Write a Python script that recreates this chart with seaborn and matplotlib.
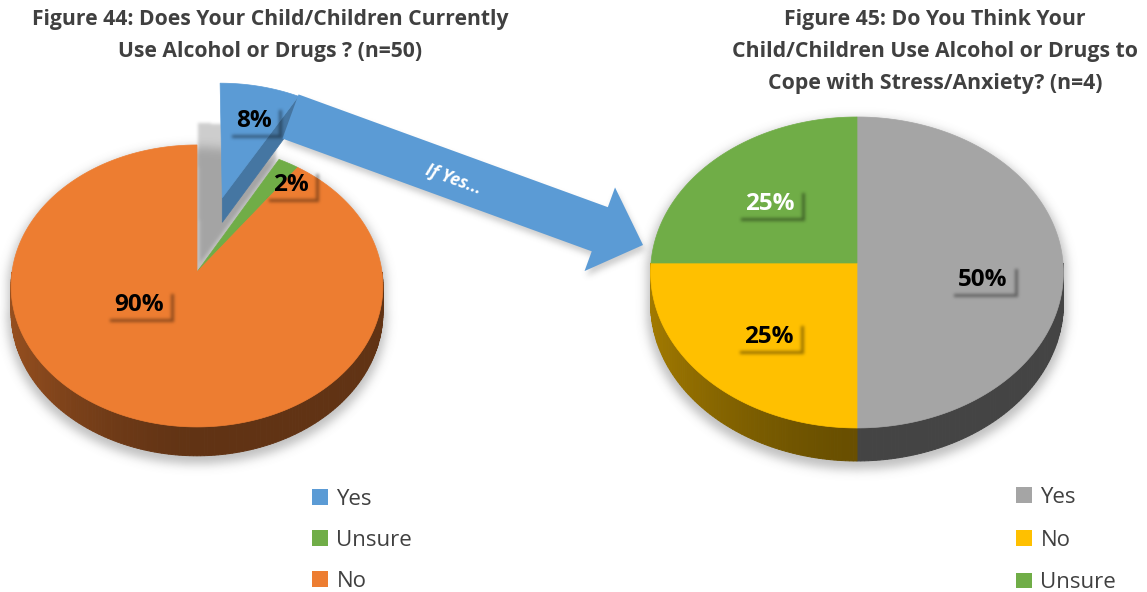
import numpy as np
import pandas as pd
import matplotlib
matplotlib.use("Agg")
import matplotlib.pyplot as plt
from matplotlib.patches import Polygon, Patch, FancyArrow
from matplotlib.path import Path
import seaborn as sns

# ---- survey results -------------------------------------------------------
use_labels = ["Yes", "Unsure", "No"]
use_pct = [8, 2, 90]
cope_labels = ["Yes", "No", "Unsure"]
cope_pct = [50, 25, 25]

use_title = ["Figure 44: Does Your Child/Children Currently",
             "Use Alcohol or Drugs ? (n=50)"]
cope_title = ["Figure 45: Do You Think Your",
              "Child/Children Use Alcohol or Drugs to",
              "Cope with Stress/Anxiety? (n=4)"]
arrow_text = "If Yes..."

# ---- style ---------------------------------------------------------------
sns.set_theme(style="white")
plt.rcParams["font.family"] = ["Open Sans", "DejaVu Sans"]

use_colors = sns.color_palette(["#5B9BD5", "#70AD47", "#ED7D31"])
cope_colors = sns.color_palette(["#A5A5A5", "#FFC000", "#70AD47"])
use_text_colors = ["black", "black", "black"]
cope_text_colors = ["black", "black", "white"]
TEXT = "#404040"

W, H = 1147, 592
fig = plt.figure(figsize=(W / 100, H / 100), dpi=100)
ax = fig.add_axes([0, 0, 1, 1])

# tilted-disc geometry in pixel space (y grows downwards)
LEFT = dict(cx=197, cy=272, rx=185, A=139.6, k=0.099, h=26)
RIGHT = dict(cx=857, cy=263, rx=206, A=154.9, k=0.061, h=31)
use_explode = [0.58, 0.0, 0.0]
cope_explode = [0.0, 0.0, 0.0]
use_label_xy = [(254, 121), (291, 185), (139, 305)]
cope_label_xy = [(983, 280), (769, 337), (770, 204)]


def project(g, theta, r=1.0, z=0.0, off=(0.0, 0.0)):
    theta = np.atleast_1d(np.asarray(theta, float))
    u = r * np.cos(theta) + off[0]
    v = r * np.sin(theta) + off[1]
    s = 1.0 / (1.0 + g["k"] * v)
    return np.column_stack([g["cx"] + g["rx"] * u * s,
                            g["cy"] - g["A"] * v * s + g["h"] * z * s])


def wedge_angles(pcts):
    frac = np.asarray(pcts, float) / np.sum(pcts)
    edges = np.radians(90 - 360 * np.concatenate([[0], np.cumsum(frac)]))
    return [(edges[i + 1], edges[i]) for i in range(len(frac))]


def shade(color, f):
    return tuple(np.clip(np.array(color[:3]) * f, 0, 1))


def side_factor(theta):
    return 0.41 + 0.23 * max(0.0, -np.cos(theta)) ** 1.5


def gaussian_blur(a, sigma):
    r = int(3 * sigma) + 1
    x = np.arange(-r, r + 1)
    k = np.exp(-x ** 2 / (2 * sigma ** 2))
    k /= k.sum()
    a = np.apply_along_axis(np.convolve, 0, a, k, mode="same")
    a = np.apply_along_axis(np.convolve, 1, a, k, mode="same")
    return a


def soft_shadow(xy, offset=(0, 0), sigma=4.0, alpha=0.3, color=(0.45, 0.45, 0.45),
                zorder=1, scale=1.0, hole=None):
    pts = np.asarray(xy, float)
    c = pts.mean(0)
    pts = c + (pts - c) * scale + np.asarray(offset, float)
    pad = 3 * sigma + 3
    x0, y0 = np.floor(pts.min(0) - pad)
    x1, y1 = np.ceil(pts.max(0) + pad)
    X, Y = np.meshgrid(np.arange(x0, x1) + 0.5, np.arange(y0, y1) + 0.5)
    P = np.column_stack([X.ravel(), Y.ravel()])
    m = Path(pts).contains_points(P)
    if hole is not None:
        m &= ~Path(np.asarray(hole, float)).contains_points(P)
    m = gaussian_blur(m.reshape(X.shape).astype(float), sigma)
    img = np.zeros(m.shape + (4,))
    img[..., :3] = color
    img[..., 3] = np.clip(m, 0, 1) * alpha
    ax.imshow(img, extent=(x0, x1, y1, y0), origin="upper", zorder=zorder,
              interpolation="bilinear")


def convex_hull(points):
    pts = sorted(map(tuple, points))
    def cross(o, a, b):
        return (a[0] - o[0]) * (b[1] - o[1]) - (a[1] - o[1]) * (b[0] - o[0])
    lower, upper = [], []
    for p in pts:
        while len(lower) >= 2 and cross(lower[-2], lower[-1], p) <= 0:
            lower.pop()
        lower.append(p)
    for p in reversed(pts):
        while len(upper) >= 2 and cross(upper[-2], upper[-1], p) <= 0:
            upper.pop()
        upper.append(p)
    return np.array(lower[:-1] + upper[:-1])


def front_ranges(t0, t1):
    for kk in (-1, 0, 1):
        lo = max(t0, -np.pi + 2 * np.pi * kk)
        hi = min(t1, 2 * np.pi * kk)
        if hi > lo:
            yield lo, hi


def draw_pie(g, pcts, colors, explode, z0):
    angles = wedge_angles(pcts)
    tb = np.linspace(0, np.pi, 120)
    tf = np.linspace(np.pi, 2 * np.pi, 120)
    outline = np.vstack([project(g, tb), project(g, tf, z=1.0)])
    soft_shadow(outline, offset=(0, 5), sigma=5, alpha=0.45, scale=1.02, zorder=z0)

    order = sorted(range(len(pcts)), key=lambda i: -explode[i])
    for i in order:
        t0, t1 = angles[i]
        mid = 0.5 * (t0 + t1)
        off = (explode[i] * np.cos(mid), explode[i] * np.sin(mid))
        col = colors[i]
        z = z0 + (1 if explode[i] else 3)
        ts = np.linspace(t0, t1, max(int(np.degrees(t1 - t0)), 2) + 1)
        top = np.vstack([project(g, 0.0, r=0.0, off=off), project(g, ts, off=off)])

        if explode[i]:
            bottom = np.vstack([project(g, 0.0, r=0.0, z=1, off=off),
                                project(g, ts, z=1, off=off)])
            hull = convex_hull(np.vstack([top, bottom]))
            soft_shadow(hull, offset=(-22, 40), sigma=1.5, alpha=0.35, zorder=z - 0.2)
            for t_edge, visible in ((t0, np.cos(t0) > 0), (t1, np.cos(t1) < 0)):
                if visible:
                    quad = np.vstack([project(g, 0.0, r=0.0, off=off),
                                      project(g, t_edge, off=off),
                                      project(g, t_edge, z=1, off=off),
                                      project(g, 0.0, r=0.0, z=1, off=off)])
                    c = shade(col, 0.76)
                    ax.add_patch(Polygon(quad, closed=True, fc=c, ec=c, lw=0.5, zorder=z))

        for lo, hi in front_ranges(t0, t1):
            n = max(int(np.degrees(hi - lo)), 1)
            tt = np.linspace(lo, hi, n + 1)
            ta = project(g, tt, off=off)
            ba = project(g, tt, z=1, off=off)
            for j in range(n):
                quad = [ta[j], ta[j + 1], ba[j + 1], ba[j]]
                c = shade(col, side_factor(0.5 * (tt[j] + tt[j + 1])))
                ax.add_patch(Polygon(quad, closed=True, fc=c, ec=c, lw=0.7, zorder=z))

        ax.add_patch(Polygon(top, closed=True, fc=col, ec=col, lw=0.5, zorder=z + 0.5))


draw_pie(LEFT, use_pct, use_colors, use_explode, z0=1)
draw_pie(RIGHT, cope_pct, cope_colors, cope_explode, z0=1)

# ---- connecting arrow ----------------------------------------------------
tail = np.array([290.5, 116.5])
tip = np.array([643.0, 245.0])
arrow = FancyArrow(tail[0], tail[1], *(tip - tail), width=47, head_width=89,
                   head_length=46, length_includes_head=True,
                   fc=use_colors[0], ec="none", zorder=10)
ax.add_patch(arrow)
soft_shadow(arrow.get_xy(), offset=(2, 5), sigma=3, alpha=0.35, zorder=9.5)
ang = np.degrees(np.arctan2(tip[1] - tail[1], tip[0] - tail[0]))
ax.text(454, 180, arrow_text, rotation=-ang, rotation_mode="anchor",
        ha="center", va="center", color="white", fontsize=12.5,
        fontweight="bold", style="italic", zorder=11)

# ---- value labels ----------------------------------------------------------
labels = []
for pcts, xy, tcs in ((use_pct, use_label_xy, use_text_colors),
                      (cope_pct, cope_label_xy, cope_text_colors)):
    for v, (x, y), tc in zip(pcts, xy, tcs):
        labels.append(ax.text(x, y, f"{v}%", ha="center", va="center",
                              fontsize=17.5, fontweight="bold", color=tc, zorder=13))

# ---- titles ----------------------------------------------------------------
for i, line in enumerate(use_title):
    ax.text(270, 20 + 32 * i, line, ha="center", va="center", fontsize=15.2,
            fontweight="bold", color=TEXT)
for i, line in enumerate(cope_title):
    ax.text(935, 19 + 32 * i, line, ha="center", va="center", fontsize=15.3,
            fontweight="bold", color=TEXT)

# ---- legends ---------------------------------------------------------------
leg_kw = dict(loc="upper left", bbox_transform=ax.transData, frameon=False,
              fontsize=16, labelcolor=TEXT, handlelength=0.7, handleheight=0.7,
              handletextpad=0.4, borderpad=0, borderaxespad=0)
leg1 = ax.legend(handles=[Patch(fc=c, ec="none") for c in use_colors],
                 labels=use_labels, bbox_to_anchor=(312, 489), labelspacing=0.9,
                 **leg_kw)
ax.add_artist(leg1)
ax.legend(handles=[Patch(fc=c, ec="none") for c in cope_colors],
          labels=cope_labels, bbox_to_anchor=(1016, 487), labelspacing=0.97,
          **leg_kw)

ax.set_xlim(0, W)
ax.set_ylim(H, 0)
ax.set_aspect("auto")
ax.axis("off")

# label boxes: transparent frames with a soft drop shadow on the lower right
fig.canvas.draw()
inv = ax.transData.inverted()
for t in labels:
    bb = t.get_window_extent()
    (xa, ya), (xb, yb) = inv.transform([[bb.x0, bb.y0], [bb.x1, bb.y1]])
    x0, x1 = min(xa, xb) - 7, max(xa, xb) + 7
    y0, y1 = min(ya, yb) - 2, max(ya, yb) + 2
    box = np.array([[x0, y0], [x1, y0], [x1, y1], [x0, y1]])
    soft_shadow(box + 3, sigma=1.6, alpha=0.42, color=(0, 0, 0), zorder=12, hole=box)

ax.set_xlim(0, W)
ax.set_ylim(H, 0)
ax.set_aspect("auto")
fig.savefig("out.png", dpi=100, facecolor="white")
